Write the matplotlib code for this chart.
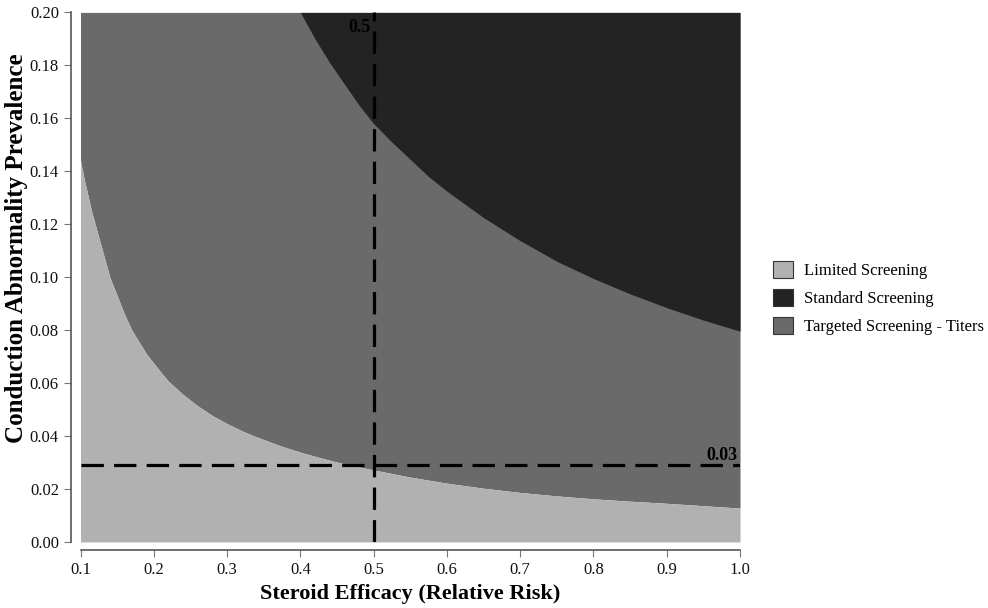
import matplotlib
matplotlib.use("Agg")
import matplotlib.pyplot as plt
from matplotlib.patches import Patch

plt.rcParams['font.family'] = ['Liberation Serif', 'DejaVu Serif']

# Boundary between Limited and Targeted screening
lower_x = [0.100, 0.105, 0.110, 0.115, 0.120, 0.125, 0.130, 0.135, 0.140, 0.150,
           0.160, 0.170, 0.180, 0.190, 0.200, 0.210, 0.220, 0.240, 0.260, 0.280,
           0.300, 0.320, 0.340, 0.370, 0.400, 0.430, 0.460, 0.500, 0.550, 0.600,
           0.650, 0.700, 0.750, 0.800, 0.850, 0.900, 0.950, 1.000]
lower_y = [0.144, 0.137, 0.131, 0.125, 0.120, 0.115, 0.110, 0.105, 0.100, 0.093,
           0.086, 0.080, 0.0755, 0.071, 0.0675, 0.064, 0.0607, 0.0557, 0.0514, 0.0477,
           0.0447, 0.0420, 0.0397, 0.0366, 0.0339, 0.0316, 0.0295, 0.0272, 0.0245, 0.0222,
           0.0203, 0.0187, 0.0174, 0.0163, 0.0154, 0.0146, 0.0137, 0.0128]

# Boundary between Targeted and Standard screening
upper_x = [0.400, 0.420, 0.440, 0.460, 0.480, 0.500, 0.525, 0.550, 0.575, 0.600,
           0.650, 0.700, 0.750, 0.800, 0.850, 0.900, 0.950, 1.000]
upper_y = [0.200, 0.190, 0.181, 0.173, 0.165, 0.158, 0.151, 0.1445, 0.138, 0.1325,
           0.1225, 0.1138, 0.106, 0.0995, 0.0937, 0.0885, 0.0838, 0.0796]

ref_x = 0.5
ref_y = 0.029
ref_x_label = "0.5"
ref_y_label = "0.03"

x_ticks = [0.1, 0.2, 0.3, 0.4, 0.5, 0.6, 0.7, 0.8, 0.9, 1.0]
y_ticks = [0.00, 0.02, 0.04, 0.06, 0.08, 0.10, 0.12, 0.14, 0.16, 0.18, 0.20]

legend_labels = ["Limited Screening", "Standard Screening", "Targeted Screening - Titers"]
c_light, c_dark, c_mid = "#b1b1b1", "#232323", "#6a6a6a"

fig = plt.figure(figsize=(9.88, 6.08), dpi=100)
ax = fig.add_axes([0.0815, 0.1086, 0.6675, 0.871])

ax.fill_between(lower_x, lower_y, 0.2, color=c_mid, linewidth=0)
ax.fill_between(lower_x, 0, lower_y, color=c_light, linewidth=0)
ax.fill_between(upper_x, upper_y, 0.2, color=c_dark, linewidth=0)

ax.axvline(ref_x, color="black", lw=2.3, dashes=(7, 3.2))
ax.axhline(ref_y, color="black", lw=2.3, dashes=(7, 3.2))
ax.text(ref_x - 0.004, 0.1975, ref_x_label, ha="right", va="top",
        fontsize=13, fontweight="bold")
ax.text(0.997, ref_y + 0.0004, ref_y_label, ha="right", va="bottom",
        fontsize=13, fontweight="bold")

ax.set_xlim(0.1, 1.0)
ax.set_ylim(0.0, 0.2)
ax.set_xticks(x_ticks)
ax.set_xticklabels([f"{v:.1f}" for v in x_ticks])
ax.set_yticks(y_ticks)
ax.set_yticklabels([f"{v:.2f}" for v in y_ticks])

for s in ["top", "right"]:
    ax.spines[s].set_visible(False)
ax.spines["left"].set_position(("outward", 7))
ax.spines["bottom"].set_position(("outward", 6))
for s in ["left", "bottom"]:
    ax.spines[s].set_color("#555555")
    ax.spines[s].set_linewidth(1.2)
ax.tick_params(axis="both", direction="out", length=5, width=0.8,
               color="#777777", labelsize=12, labelcolor="#111111")

ax.set_xlabel("Steroid Efficacy (Relative Risk)", fontsize=16, fontweight="bold")
ax.set_ylabel("Conduction Abnormality Prevalence", fontsize=18, fontweight="bold")
ax.xaxis.set_label_coords(0.5, -0.079)
ax.yaxis.set_label_coords(-0.08, 0.555)

handles = [Patch(facecolor=c, edgecolor="#333333", linewidth=0.8)
           for c in [c_light, c_dark, c_mid]]
fig.legend(handles, legend_labels, loc="center left", bbox_to_anchor=(0.767, 0.51),
           frameon=False, fontsize=12, handlelength=1.2, handleheight=1.2,
           handletextpad=0.7, labelspacing=0.6)

fig.savefig("out.png", dpi=100)
